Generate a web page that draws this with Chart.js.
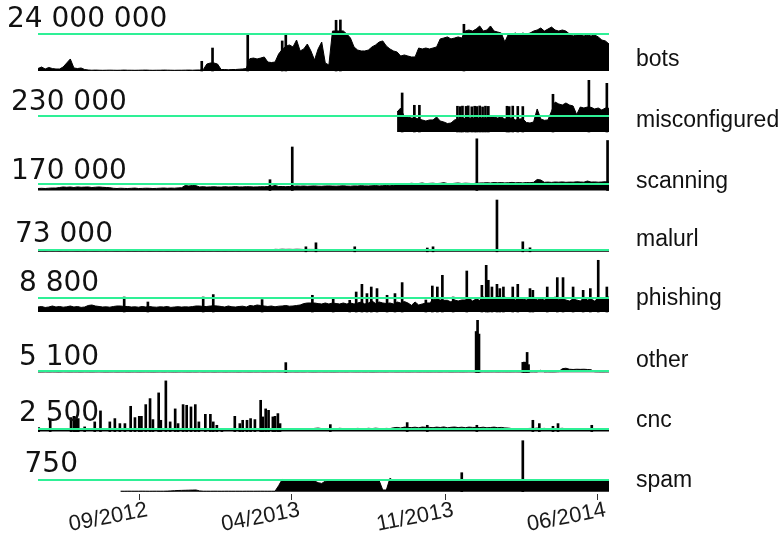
<!DOCTYPE html>
<html><head><meta charset="utf-8">
<script src="https://cdn.jsdelivr.net/npm/chart.js@4.4.1/dist/chart.umd.min.js"></script>
<style>
html,body{margin:0;padding:0;background:#fff;}
#wrap{position:relative;width:784px;height:533px;overflow:hidden;background:#fff;}
canvas{position:absolute;left:0;top:0;}
.num{position:absolute;font-family:'DejaVu Sans',sans-serif;font-size:28px;line-height:28px;color:#111;white-space:nowrap;}
.cat{position:absolute;font-family:'Liberation Sans',Arial,sans-serif;font-size:23px;line-height:23px;color:#111;white-space:nowrap;}
</style></head><body>
<div id="wrap"><canvas id="c" width="784" height="533"></canvas></div>
<script>
// ---- data ----
const categories = ['bots','misconfigured','scanning','malurl','phishing','other','cnc','spam'];
const refValues = [24000000, 230000, 170000, 73000, 8800, 5100, 2500, 750];
const refLabels = ['24 000 000','230 000','170 000','73 000','8 800','5 100','2 500','750'];
const startDate = '2012-04-13';   // day 0
const stepDays = 5;                // regular samples every 5 days
const lastDay = 795;
const tickDays = [141, 353, 567, 779];
const tickLabels = ['09/2012','04/2013','11/2013','06/2014'];

// regular samples (start = index of first sample) + narrow one-day peaks
const botsStart = 0;
const bots = [1.6e6,2.6e6,1.3e6,2.3e6,1.6e6,1.3e6,1.3e6,2.6e6,5.2e6,7.8e6,1.95e6,1.6e6,1.95e6,0.97e6,0.65e6,
0.5e6,0.6e6,0.5e6,0.45e6,0.5e6,0.55e6,0.5e6,0.45e6,0.5e6,0.6e6,0.5e6,0.5e6,0.45e6,0.5e6,0.55e6,0.6e6,0.5e6,0.45e6,0.5e6,0.5e6,0.6e6,0.55e6,0.5e6,0.45e6,0.5e6,0.5e6,0.55e6,0.6e6,0.5e6,0.6e6,
0.65e6,0.8e6,4.5e6,5.2e6,5.2e6,4.5e6,0.97e6,0.97e6,0.8e6,0.97e6,0.97e6,1.15e6,1.3e6,1.6e6,8e6,
8.4e6,7.8e6,8.4e6,9.1e6,5.8e6,5.5e6,5.8e6,11e6,14e6,16e6,16.9e6,15.6e6,20.1e6,13e6,14.3e6,17.5e6,13e6,7.1e6,14.3e6,18.8e6,
5.2e6,3.9e6,25.9e6,26e6,25.9e6,26e6,24e6,21.4e6,15.6e6,13.6e6,13e6,13e6,13.6e6,15.6e6,16.9e6,18.8e6,19.5e6,16.2e6,14.3e6,13e6,
12.3e6,9.7e6,10.4e6,9.7e6,9.1e6,9.1e6,14.9e6,14.3e6,14.9e6,14.3e6,14.9e6,15.6e6,20.8e6,21.4e6,22.1e6,20.8e6,21.4e6,22.1e6,21.4e6,26e6,
26.6e6,25.9e6,27.2e6,29.2e6,25.9e6,26.6e6,29.2e6,25.9e6,25.3e6,24.6e6,18.8e6,24e6,24e6,24.6e6,23.4e6,24.6e6,24e6,24.6e6,25.9e6,26.6e6,
27.9e6,25.9e6,27.2e6,28.5e6,26.6e6,25.9e6,26.6e6,25.9e6,24e6,22.7e6,23.4e6,24e6,22.7e6,23.4e6,22.7e6,23.4e6,22.1e6,20.1e6,19.5e6,17.5e6];
const botsSpikeDays = [228, 243, 292, 340, 345, 415, 421, 593];
const botsSpikeValues = [6.3e6, 14.9e6, 23.2e6, 19.5e6, 23.4e6, 32.9e6, 33.1e6, 30.3e6];

const misconfiguredStart = 100;
const misconfigured = [288e3,345e3,216e3,216e3,201e3,201e3,187e3,173e3,158e3,173e3,
173e3,216e3,158e3,144e3,122e3,129e3,173e3,187e3,197e3,190e3,
201e3,194e3,187e3,197e3,190e3,194e3,216e3,216e3,201e3,216e3,
187e3,197e3,201e3,173e3,187e3,190e3,137e3,129e3,144e3,331e3,
187e3,168e3,173e3,300e3,431e3,403e3,388e3,417e3,388e3,374e3,
250e3,359e3,345e3,359e3,355e3,331e3,345e3,316e3,345e3,340e3];
const misconfiguredSpikeDays = [507,524,531,584,588,591,596,599,604,608,611,615,619,623,627,653,656,661,668,675,717,767,792];
const misconfiguredSpikeValues = [561e3,384e3,384e3,370e3,365e3,372e3,368e3,375e3,362e3,370e3,366e3,374e3,360e3,371e3,368e3,370e3,365e3,372e3,368e3,366e3,542e3,743e3,700e3];

const scanningStart = 0;
const scanning = [52e3,58e3,52e3,60e3,65e3,63e3,
78e3,92e3,84e3,92e3,78e3,94e3,84e3,89e3,92e3,78e3,86e3,92e3,84e3,78e3,73e3,
58e3,52e3,60e3,55e3,52e3,58e3,63e3,52e3,55e3,60e3,58e3,52e3,55e3,60e3,65e3,58e3,63e3,60e3,68e3,73e3,
131e3,118e3,131e3,126e3,
92e3,99e3,89e3,94e3,97e3,92e3,89e3,99e3,92e3,94e3,102e3,92e3,94e3,99e3,97e3,92e3,94e3,99e3,97e3,
105e3,105e3,131e3,105e3,105e3,99e3,105e3,105e3,118e3,
112e3,118e3,110e3,115e3,120e3,112e3,110e3,118e3,120e3,115e3,112e3,118e3,123e3,115e3,112e3,120e3,118e3,126e3,120e3,118e3,123e3,128e3,120e3,126e3,131e3,123e3,136e3,
157e3,170e3,183e3,178e3,188e3,180e3,183e3,196e3,178e3,186e3,191e3,180e3,188e3,204e3,183e3,178e3,188e3,196e3,183e3,191e3,186e3,180e3,
190e3,196e3,
199e3,204e3,196e3,209e3,201e3,207e3,199e3,204e3,212e3,201e3,207e3,199e3,209e3,204e3,214e3,
288e3,275e3,
214e3,220e3,212e3,222e3,217e3,225e3,214e3,220e3,217e3,228e3,222e3,217e3,248e3,220e3,225e3,217e3,222e3,230e3,
222e3];
const scanningSpikeDays = [323, 354, 611, 793];
const scanningSpikeValues = [282e3, 1138e3, 1352e3, 1308e3];

const malurlStart = 0;
const malurl = [45e3,50e3,42e3,55e3,48e3,52e3,45e3,50e3,47e3,53e3,
49e3,44e3,51e3,46e3,52e3,48e3,45e3,50e3,55e3,47e3,
60e3,48e3,45e3,50e3,52e3,46e3,49e3,44e3,50e3,47e3,
52e3,45e3,48e3,50e3,46e3,51e3,44e3,49e3,47e3,52e3,
45e3,50e3,48e3,46e3,51e3,49e3,45e3,50e3,47e3,52e3,
46e3,49e3,45e3,50e3,48e3,52e3,47e3,55e3,50e3,60e3,
58e3,55e3,62e3,58e3,65e3,70e3,
100e3,95e3,105e3,98e3,102e3,96e3,104e3,100e3,
93e3,97e3,97e3,95e3,97e3,
81e3,85e3,79e3,83e3,80e3,86e3,82e3,78e3,84e3,
82e3,
81e3,84e3,79e3,83e3,80e3,85e3,82e3,78e3,84e3,81e3,86e3,80e3,83e3,79e3,85e3,82e3,80e3,84e3,81e3,
82e3,82e3,84e3,
80e3,84e3,82e3,79e3,85e3,81e3,83e3,80e3,84e3,82e3,86e3,80e3,83e3,81e3,85e3,82e3,80e3,
82e3,
82e3,84e3,80e3,83e3,81e3,85e3,
82e3,100e3,84e3,
82e3,85e3,80e3,84e3,81e3,86e3,83e3,80e3,85e3,82e3,84e3,81e3,86e3,83e3,80e3,85e3,82e3,88e3,84e3,81e3,86e3,90e3];
const malurlSpikeDays = [373, 387, 441, 542, 550, 639, 675, 685];
const malurlSpikeValues = [203e3, 365e3, 203e3, 154e3, 203e3, 2100e3, 406e3, 162e3];

const phishingStart = 0;
const phishing = [3140,3460,2830,3140,3770,3140,3460,3020,3270,3770,3140,3460,2890,3140,4090,4400,3770,3460,3140,3270,3020,3460,3770,
3770,3460,3460,3140,3270,3020,3460,3140,
3460,3140,3020,3270,3140,3460,2890,3140,3330,3080,3270,3140,3390,3770,
3770,3460,3460,3770,3900,3770,3460,3140,3770,3270,3140,3460,3650,3140,4090,3770,
4400,4090,3770,3460,3770,3270,3650,3770,4090,3650,3770,
4090,4400,5280,5660,5660,5660,5280,5030,5660,5030,5660,5340,5030,5660,5030,5660,5030,
5660,6290,5030,5660,6910,5340,6290,5660,5340,5660,5030,6290,5660,6600,5660,
4210,6290,4400,5030,5660,
5660,7540,8170,7540,7350,7350,6290,7540,6910,7540,
7540,8800,6910,8170,7350,9430,7540,8800,8170,10060,8170,9430,
8170,9430,7540,8800,8170,7540,9430,8800,7540,8170,7540,8800,8170,9430,7540,8800,
7540,6910,8170,7540,6910,8800,7540,8170,6910,8800,8170,8800,9430];
const phishingSpikeDays = [120,153,230,244,312,382,411,434,443,451,458,464,472,486,497,507,540,549,556,563,578,597,618,624,627,632,639,643,648,661,668,685,689,709,723,731,745,759,769,780,792];
const phishingSpikeValues = [9430,6290,9430,10940,7790,10500,8420,7350,12570,17410,11570,15710,14710,10500,11570,18480,7540,16340,15710,23070,9430,25770,16780,29350,19930,15710,17410,14710,15710,15710,17410,14710,13640,15710,21620,21620,15710,13640,14710,32500,15710];

const otherStart = 0;
const other = [2000,1800,2200,1900,2100,2000,1700,2300,2000,1900,
2100,2000,1800,2200,2000,1900,2100,2300,2000,1800,
2000,2200,1900,2000,2100,1800,2000,2200,1900,2000,
2100,2000,1800,2000,2200,1900,2100,2000,1800,2000,
2200,2000,1900,2100,2000,2300,1900,2000,2100,1800,
2000,2200,1900,2000,2100,2000,1800,2200,2000,1900,
2100,2000,2200,1900,2000,2100,2300,2000,2200,
2000,
2000,2200,1900,2100,2000,2300,2000,1900,2100,2200,
2000,2100,1900,2000,2200,2100,2000,2300,2100,2000,
2200,2000,2100,1900,2000,2200,2100,2000,2300,2200,
2000,2100,2200,2000,2100,2300,2000,2200,2100,2000,
2200,2100,2000,2300,2200,2000,2100,2200,2000,2100,
2300,2200,
2100,2000,
2200,2000,2100,2300,2000,2200,2100,2000,2200,2300,2100,
2000,2200,2100,
2200,2000,
8000,
2100,2300,2000,2200,
3000,14000,16000,12000,11000,12000,11500,12000,11000,10000,2500,
2200,2000,2100,2300];
const otherSpikeDays = [345, 610, 612, 614, 675, 677, 679, 681, 683];
const otherSpikeValues = [38000, 160000, 204000, 150000, 39000, 40000, 39000, 78000, 30000];

const cncStart = 0;
const cnc = [2000,2100,2400,2200,1900,2100,2500,2000,2300,2600,2400,2200,2500,2300,2000,2400,2200,2600,2300,2100,
2400,2500,2200,2300,2600,2400,2800,2500,2700,2600,2900,2700,2500,2800,2600,2700,3000,2600,2800,2500,
2700,2900,2600,2800,2700,2500,2600,2800,2700,2500,
2400,2300,2100,2400,2000,2500,2300,2400,2600,2500,
2400,2300,2700,2600,2500,2700,2600,2500,2400,
2400,2120,2690,2400,2210,2600,2880,2500,3080,3370,2880,2690,2880,2880,2690,3170,2880,2600,2980,2790,
3080,2880,2690,3170,2880,3270,2980,2790,3080,2880,
3650,4040,3460,4330,4000,3850,4230,3650,4420,4100,4040,3750,4330,3940,4520,3650,4130,4420,3850,4230,
3750,4330,4040,4000,3850,4230,3650,3940,4330,3750,4040,3560,3370,
2880,2690,2980,2600,2880,3080,2900,3370,2900,3080,2790,2900,2880,2900,3170,2690,2880,2600,2980,2690,
2790,2880,2800,2690,2880,2600,2790,2690];
const cncSpikeDays = [1,17,46,50,53,56,65,79,87,100,107,114,121,129,135,141,144,150,156,160,168,171,178,184,191,195,202,207,213,219,224,233,240,244,249,256,274,281,285,291,296,302,310,313,317,321,327,330,334,337,407,514,542,611,689,698,717,724,771];
const cncSpikeValues = [3850,10870,13460,14710,14130,12500,4520,9330,19900,9330,12500,7690,7690,24330,13460,14710,14710,25960,31730,11540,37210,10870,48750,9330,21830,7690,25960,25290,23750,25960,9330,16630,16630,9330,6060,2880,14710,7690,10870,10870,12500,11540,30100,14130,21830,20480,14130,14710,17310,7690,6730,8650,6060,6060,10870,7690,5100,7690,6060];

const spamStart = 23;
const spam = [32,30,33,32,31,32,34,32,30,32,33,31,32,
38,51,64,77,83,90,96,103,109,51,32,
32,31,33,32,30,32,33,31,32,32,30,33,32,31,32,33,32,31,32,
32,385,788,737,
705,692,718,705,699,712,705,692,
577,532,673,
705,718,699,705,712,692,705,718,705,699,712,705,692,705,712,
109,109,859,
705,699,712,705,718,692,705,712,699,705,718,705,692,712,705,699,705,712,705,
705,
705,712,699,705,718,705,692,705,712,705,699,705,718,705,712,705,
705,
705,718,737,769,756,724,718,731,724,712,724,731,718,724,737,724,718,731,724,712,724,731,718,724];
const spamSpikeDays = [590, 675];
const spamSpikeValues = [1218, 3269];

const seriesValues = [bots, misconfigured, scanning, malurl, phishing, other, cnc, spam];
const seriesStart = [botsStart, misconfiguredStart, scanningStart, malurlStart, phishingStart, otherStart, cncStart, spamStart];
const spikeDays = [botsSpikeDays, misconfiguredSpikeDays, scanningSpikeDays, malurlSpikeDays, phishingSpikeDays, otherSpikeDays, cncSpikeDays, spamSpikeDays];
const spikeValues = [botsSpikeValues, misconfiguredSpikeValues, scanningSpikeValues, malurlSpikeValues, phishingSpikeValues, otherSpikeValues, cncSpikeValues, spamSpikeValues];

// ---- layout (pixels) ----
const AREA_TOP = 0, AREA_BOTTOM = 494, AREA_LEFT = 38, AREA_RIGHT = 609, W = 784, H = 533;
const panelBase = [71, 132, 190.5, 251.8, 312, 372.3, 431.6, 491.7];
const panelRef  = [34, 116, 184, 250, 298, 371, 429, 480];
const numPos = [[7,4],[11,87],[11,156],[15,219],[19,268],[19,341.5],[19,398],[24.5,449]];
const catLeft = 636;
const catTop = [46.5,107.5,168.5,226.5,285.5,347.5,407.5,467.5];
const GREEN = '#2ef096';

const wrap = document.getElementById('wrap');
refLabels.forEach((t, k) => {
  const d = document.createElement('div');
  d.className = 'num'; d.textContent = t;
  d.style.left = numPos[k][0] + 'px'; d.style.top = numPos[k][1] + 'px';
  wrap.appendChild(d);
});
categories.forEach((t, k) => {
  const d = document.createElement('div');
  d.className = 'cat'; d.textContent = t;
  d.style.left = catLeft + 'px'; d.style.top = catTop[k] + 'px';
  wrap.appendChild(d);
});

const scales = {
  x: {
    type: 'linear', min: 0, max: lastDay, position: 'bottom', offset: false,
    afterBuildTicks: (s) => { s.ticks = tickDays.map(v => ({ value: v })); },
    afterFit: (s) => { s.height = H - AREA_BOTTOM; s.paddingLeft = 0; s.paddingRight = 0; },
    grid: { display: true, offset: false, drawOnChartArea: false, drawTicks: true, tickLength: 6, color: '#333', lineWidth: 1 },
    border: { display: false },
    ticks: {
      autoSkip: false, minRotation: 11, maxRotation: 11, padding: -3, labelOffset: 8,
      color: '#1a1a1a', font: { family: "'Liberation Sans', Arial, sans-serif", size: 22 },
      callback: (v, i) => tickLabels[i]
    }
  }
};
const datasets = [];
seriesValues.forEach((vals, k) => {
  const ppu = (panelBase[k] - panelRef[k]) / refValues[k];
  scales['y' + k] = {
    type: 'linear', display: false, bounds: 'data',
    min: -(AREA_BOTTOM - panelBase[k]) / ppu,
    max: (panelBase[k] - AREA_TOP) / ppu
  };
  datasets.push({
    type: 'line', label: categories[k], yAxisID: 'y' + k, order: 1,
    data: vals.map((v, i) => ({ x: (seriesStart[k] + i) * stepDays, y: v })),
    borderColor: '#000', backgroundColor: '#000', borderWidth: 1,
    fill: 'origin', pointRadius: 0, tension: 0
  });
  datasets.push({
    type: 'bar', label: categories[k] + ' peaks', yAxisID: 'y' + k, order: 1, grouped: false,
    data: spikeDays[k].map((d, i) => ({ x: d, y: spikeValues[k][i] })),
    backgroundColor: '#000', borderWidth: 0, barThickness: 2
  });
  datasets.push({
    type: 'line', label: categories[k] + ' ref', yAxisID: 'y' + k, order: 0,
    data: [{ x: 0, y: refValues[k] }, { x: lastDay, y: refValues[k] }],
    borderColor: GREEN, borderWidth: 2, fill: false, pointRadius: 0
  });
});

new Chart(document.getElementById('c'), {
  type: 'line',
  data: { datasets },
  options: {
    responsive: false, animation: false, devicePixelRatio: 1, events: [],
    layout: { padding: { left: AREA_LEFT, right: W - AREA_RIGHT, top: AREA_TOP, bottom: 0 } },
    plugins: { legend: { display: false }, tooltip: { enabled: false } },
    scales
  }
});
</script>
</body></html>
